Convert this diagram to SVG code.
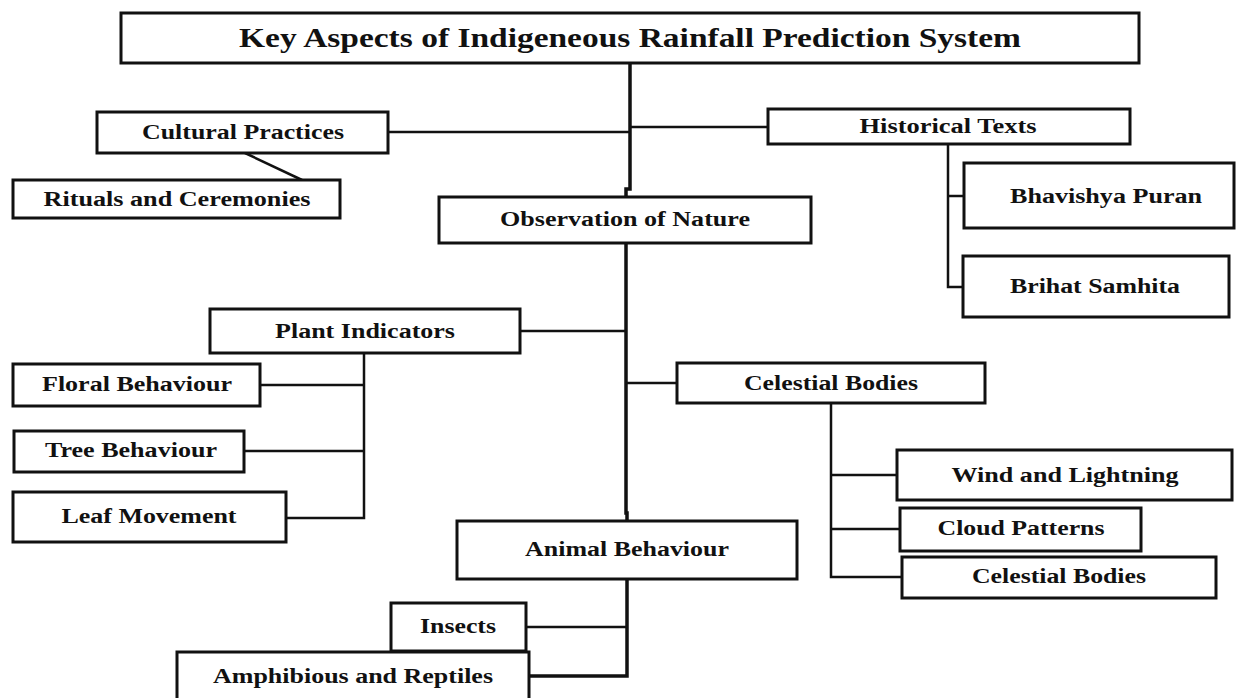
<svg xmlns="http://www.w3.org/2000/svg" width="1236" height="698" viewBox="0 0 1236 698">
<style>
.box{fill:#fff;stroke:#111;stroke-width:3}
.t{font-family:"Liberation Serif","Times New Roman",serif;font-weight:bold;font-size:20px;fill:#111;text-anchor:middle}
.title{font-size:27px}
.ln{fill:none;stroke:#111;stroke-width:2.5}
.thick{stroke-width:3.5}
</style>
<rect width="1236" height="698" fill="#fff"/>
<g id="connectors">
<path class="ln thick" d="M630,63 V189 H626 V197"/>
<path class="ln" d="M388,132 H630"/>
<path class="ln" d="M630,127 H768"/>
<path class="ln" d="M245,153 L302,180"/>
<path class="ln" d="M948,144 V287 H963"/>
<path class="ln" d="M948,196 H964"/>
<path class="ln thick" d="M626,243 V513 H627 V521"/>
<path class="ln" d="M520,331 H626"/>
<path class="ln" d="M364,353 V518 H286"/>
<path class="ln" d="M260,385 H364"/>
<path class="ln" d="M244,451 H364"/>
<path class="ln" d="M626,383 H677"/>
<path class="ln" d="M831,403 V577 H902"/>
<path class="ln" d="M831,475 H897"/>
<path class="ln" d="M831,529 H900"/>
<path class="ln thick" d="M627,579 V676 H529"/>
<path class="ln" d="M526,627 H627"/>
</g>
<g id="title"><rect class="box" x="121" y="13" width="1018" height="50"/><text class="t title" x="630" y="47" textLength="782" lengthAdjust="spacingAndGlyphs">Key Aspects of Indigeneous  Rainfall Prediction System</text></g>
<g id="cultural"><rect class="box" x="97" y="112" width="291" height="41"/><text class="t" x="243" y="139" textLength="202" lengthAdjust="spacingAndGlyphs">Cultural Practices</text></g>
<g id="rituals"><rect class="box" x="13" y="180" width="327" height="38"/><text class="t" x="177" y="206" textLength="267" lengthAdjust="spacingAndGlyphs">Rituals and Ceremonies</text></g>
<g id="historical"><rect class="box" x="768" y="109" width="362" height="35"/><text class="t" x="948" y="133" textLength="177" lengthAdjust="spacingAndGlyphs">Historical Texts</text></g>
<g id="bhavishya"><rect class="box" x="964" y="163" width="270" height="65"/><text class="t" x="1106" y="203" textLength="192" lengthAdjust="spacingAndGlyphs">Bhavishya Puran</text></g>
<g id="brihat"><rect class="box" x="963" y="256" width="266" height="61"/><text class="t" x="1095" y="293" textLength="170" lengthAdjust="spacingAndGlyphs">Brihat Samhita</text></g>
<g id="observation"><rect class="box" x="439" y="197" width="372" height="46"/><text class="t" x="625" y="226" textLength="250" lengthAdjust="spacingAndGlyphs">Observation of Nature</text></g>
<g id="plant"><rect class="box" x="210" y="309" width="310" height="44"/><text class="t" x="365" y="338" textLength="180" lengthAdjust="spacingAndGlyphs">Plant Indicators</text></g>
<g id="floral"><rect class="box" x="13" y="364" width="247" height="42"/><text class="t" x="137" y="391" textLength="190" lengthAdjust="spacingAndGlyphs">Floral Behaviour</text></g>
<g id="tree"><rect class="box" x="14" y="431" width="230" height="41"/><text class="t" x="131" y="457" textLength="172" lengthAdjust="spacingAndGlyphs">Tree Behaviour</text></g>
<g id="leaf"><rect class="box" x="13" y="492" width="273" height="50"/><text class="t" x="149" y="523" textLength="175" lengthAdjust="spacingAndGlyphs">Leaf Movement</text></g>
<g id="celestial"><rect class="box" x="677" y="363" width="308" height="40"/><text class="t" x="831" y="390" textLength="174" lengthAdjust="spacingAndGlyphs">Celestial Bodies</text></g>
<g id="wind"><rect class="box" x="897" y="450" width="335" height="50"/><text class="t" x="1065" y="482" textLength="227" lengthAdjust="spacingAndGlyphs">Wind and Lightning</text></g>
<g id="cloud"><rect class="box" x="900" y="508" width="241" height="43"/><text class="t" x="1021" y="535" textLength="167" lengthAdjust="spacingAndGlyphs">Cloud Patterns</text></g>
<g id="celestial2"><rect class="box" x="902" y="557" width="314" height="41"/><text class="t" x="1059" y="583" textLength="174" lengthAdjust="spacingAndGlyphs">Celestial Bodies</text></g>
<g id="animal"><rect class="box" x="457" y="521" width="340" height="58"/><text class="t" x="627" y="556" textLength="204" lengthAdjust="spacingAndGlyphs">Animal Behaviour</text></g>
<g id="insects"><rect class="box" x="391" y="603" width="135" height="48"/><text class="t" x="458" y="633" textLength="76" lengthAdjust="spacingAndGlyphs">Insects</text></g>
<g id="amphibious"><rect class="box" x="177" y="652" width="352" height="52"/><text class="t" x="353" y="683" textLength="280" lengthAdjust="spacingAndGlyphs">Amphibious and Reptiles</text></g>
</svg>
